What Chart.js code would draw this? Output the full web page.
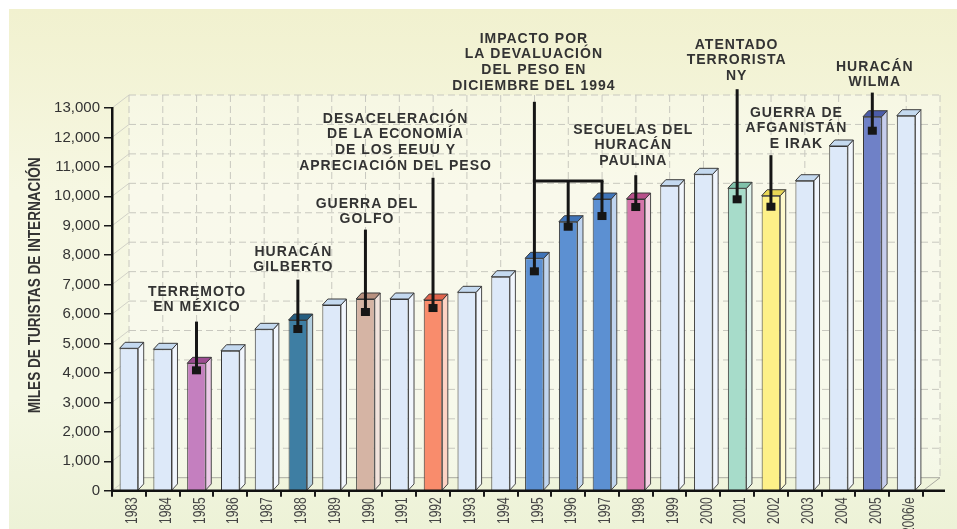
<!DOCTYPE html>
<html>
<head>
<meta charset="utf-8">
<script src="https://cdn.jsdelivr.net/npm/chart.js@4/dist/chart.umd.min.js"></script>
<style>
  html, body { margin: 0; padding: 0; background: #ffffff; }
  canvas { display: block; }
</style>
</head>
<body>
<canvas id="chart" width="957" height="529"></canvas>
<script>
// International tourist arrivals to Mexico, thousands
const years = ['1983','1984','1985','1986','1987','1988','1989','1990','1991','1992','1993','1994',
               '1995','1996','1997','1998','1999','2000','2001','2002','2003','2004','2005','2006/e'];
const tourists = [4837, 4803, 4327, 4755, 5482, 5798, 6308, 6512, 6512, 6477, 6739, 7269,
                  7894, 9137, 9908, 9908, 10360, 10747, 10272, 10020, 10530, 11709, 12704, 12738];
const yTicks = [0, 1000, 2000, 3000, 4000, 5000, 6000, 7000, 8000, 9000, 10000, 11000, 12000, 13000];
const yTitle = 'MILES DE TURISTAS DE INTERNACIÓN';

// Events that marked the series
const eventYears = [['1985'], ['1988'], ['1990'], ['1992'], ['1995', '1996', '1997'], ['1998'], ['2001'], ['2002'], ['2005']];
const eventTexts = [
  ['TERREMOTO', 'EN MÉXICO'],
  ['HURACÁN', 'GILBERTO'],
  ['GUERRA DEL', 'GOLFO'],
  ['DESACELERACIÓN', 'DE LA ECONOMÍA', 'DE LOS EEUU Y', 'APRECIACIÓN DEL PESO'],
  ['IMPACTO POR', 'LA DEVALUACIÓN', 'DEL PESO EN', 'DICIEMBRE DEL 1994'],
  ['SECUELAS DEL', 'HURACÁN', 'PAULINA'],
  ['ATENTADO', 'TERRORISTA', 'NY'],
  ['GUERRA DE', 'AFGANISTÁN', 'E IRAK'],
  ['HURACÁN', 'WILMA']
];

// Placement of each event label (text offset from its bar, first line y, marker drops below bar tops)
const eventLayout = [
  { textDx: 0,   textY: 292, gap: 14, drops: [7] },
  { textDx: -5,  textY: 252, gap: 12, drops: [9] },
  { textDx: 1,   textY: 204, gap: 10, drops: [13] },
  { textDx: -38, textY: 119, gap: 12, drops: [8] },
  { textDx: -1,  textY: 39,  gap: 16, drops: [13, 5, 17], bracketY: 181 },
  { textDx: -3,  textY: 130, gap: 14, drops: [8] },
  { textDx: -1,  textY: 45,  gap: 13, drops: [11] },
  { textDx: 25,  textY: 113, gap: 11, drops: [11] },
  { textDx: 2,   textY: 67,  gap: 10, drops: [14] }
];

// Bar faces: front, top, side
const plainFaces = ['#dde9f9', '#c4d9ef', '#f1f6fd'];
const eventFaces = {
  '1985': ['#c47fbf', '#9c4c91', '#eccbe8'],
  '1988': ['#3e7ea3', '#255e80', '#b3cfdf'],
  '1990': ['#d5b4a4', '#b8917f', '#f1e3dc'],
  '1992': ['#f98c6c', '#e0644c', '#fdd3c4'],
  '1995': ['#5c90d2', '#3f74b8', '#c0d5ef'],
  '1996': ['#5c90d2', '#3f74b8', '#c0d5ef'],
  '1997': ['#5c90d2', '#3f74b8', '#c0d5ef'],
  '1998': ['#d575ab', '#b8508b', '#f4d0e3'],
  '2001': ['#a7dcca', '#80c1aa', '#e0f3ec'],
  '2002': ['#fdf088', '#e9d756', '#fef9cc'],
  '2005': ['#6f81c7', '#4b5ca9', '#c6cdec']
};
const facesFor = yr => eventFaces[yr] || plainFaces;

const WALL = { dx: 17, dy: -13 };   // depth of back wall
const BAR = { dx: 5.5, dy: -6 };    // depth of each column

function seg(ctx, x1, y1, x2, y2) {
  ctx.beginPath(); ctx.moveTo(x1, y1); ctx.lineTo(x2, y2); ctx.stroke();
}
function poly(ctx, pts, fill, stroke) {
  ctx.beginPath();
  ctx.moveTo(pts[0][0], pts[0][1]);
  for (let i = 1; i < pts.length; i++) ctx.lineTo(pts[i][0], pts[i][1]);
  ctx.closePath();
  ctx.fillStyle = fill; ctx.fill();
  ctx.strokeStyle = stroke; ctx.lineWidth = 1; ctx.stroke();
}
// narrow lettering: regular face squeezed along the text direction
function narrowText(ctx, text, x, y, angle, squeeze, font, align) {
  ctx.save();
  ctx.translate(x, y);
  ctx.rotate(angle);
  ctx.scale(squeeze, 1);
  ctx.font = font;
  ctx.textAlign = align;
  ctx.textBaseline = 'middle';
  ctx.fillText(text, 0, 0);
  ctx.restore();
}

const scene3d = {
  id: 'scene3d',
  beforeDraw(chart) {
    const { ctx, chartArea: a, scales: { x, y } } = chart;
    ctx.save();
    ctx.fillStyle = '#ffffff';
    ctx.fillRect(0, 0, chart.width, chart.height);
    const g = ctx.createLinearGradient(0, 9, 0, chart.height);
    g.addColorStop(0, '#f1f1cf');
    g.addColorStop(0.35, '#f6f7e2');
    g.addColorStop(0.75, '#f4f7e3');
    g.addColorStop(1, '#edf2d7');
    ctx.fillStyle = g;
    ctx.fillRect(9, 9, chart.width - 9, chart.height - 9);

    const L = a.left + WALL.dx, R = a.right + WALL.dx;
    const T = a.top + WALL.dy, B = a.bottom + WALL.dy;
    ctx.fillStyle = 'rgba(255,255,255,0.3)';
    ctx.fillRect(L, T, R - L, B - T);

    // side wall diagonals from each tick
    ctx.strokeStyle = '#d2d2c8';
    ctx.lineWidth = 1;
    y.ticks.forEach(t => {
      const py = y.getPixelForValue(t.value);
      seg(ctx, a.left, py, L, py + WALL.dy);
    });

    // dashed grid on the back wall
    ctx.setLineDash([7, 4]);
    ctx.strokeStyle = '#c8c8bf';
    y.ticks.forEach(t => {
      if (t.value === 0) return;
      const py = y.getPixelForValue(t.value) + WALL.dy;
      seg(ctx, L, py, R, py);
    });
    for (let i = 0; i <= years.length; i++) {
      const px = x.getPixelForValue(i - 0.5) + WALL.dx;
      seg(ctx, px, T, px, B);
    }
    ctx.setLineDash([]);

    // floor
    ctx.strokeStyle = '#a9a9a0';
    seg(ctx, L, B, R, B);
    seg(ctx, a.right, a.bottom, R, B);
    ctx.restore();
  },
  afterDatasetsDraw(chart) {
    const { ctx } = chart;
    const meta = chart.getDatasetMeta(0);
    ctx.save();
    meta.data.forEach((bar, i) => {
      const { x: cx, y: top, base, width } = bar.getProps(['x', 'y', 'base', 'width'], true);
      const l = cx - width / 2, r = cx + width / 2;
      const f = facesFor(years[i]);
      poly(ctx, [[r, top], [r + BAR.dx, top + BAR.dy], [r + BAR.dx, base + BAR.dy], [r, base]], f[2], '#4a4a4a');
      poly(ctx, [[l, top], [l + BAR.dx, top + BAR.dy], [r + BAR.dx, top + BAR.dy], [r, top]], f[1], '#3a3a3a');
    });
    ctx.restore();
  },
  afterDraw(chart) {
    const { ctx, chartArea: a, scales: { x, y } } = chart;
    ctx.save();
    // horizontal axis line runs under the floor edge
    ctx.strokeStyle = '#111111';
    ctx.lineWidth = 2.5;
    seg(ctx, a.left, a.bottom, a.right + 22, a.bottom);

    // year labels, reading upward from below the axis
    ctx.fillStyle = '#444444';
    years.forEach((yr, i) => {
      narrowText(ctx, yr, x.getPixelForValue(i) + 3.5, a.bottom + 6.5, -Math.PI / 2, 0.71,
        '17px "Liberation Sans", Arial, sans-serif', 'right');
    });

    // vertical axis title
    ctx.fillStyle = '#333333';
    narrowText(ctx, yTitle, 35, (a.top + a.bottom) / 2 - 14, -Math.PI / 2, 0.8,
      'bold 17px "Liberation Sans", Arial, sans-serif', 'center');

    // event markers, leaders and labels
    ctx.font = 'bold 14px "Liberation Sans", Arial, sans-serif';
    ctx.letterSpacing = '1px';
    ctx.textAlign = 'center';
    ctx.textBaseline = 'middle';
    const lineH = 15.6;
    eventYears.forEach((yrs, k) => {
      const lay = eventLayout[k];
      const pts = yrs.map((yr, j) => {
        const idx = years.indexOf(yr);
        return { x: x.getPixelForValue(idx), y: y.getPixelForValue(tourists[idx]) + lay.drops[j] };
      });
      const lines = eventTexts[k];
      const tx = pts[0].x + lay.textDx;
      ctx.fillStyle = '#333333';
      lines.forEach((s, n) => ctx.fillText(s, tx + 0.5, lay.textY + n * lineH));
      const leaderTop = lay.textY + (lines.length - 1) * lineH + lay.gap;
      ctx.strokeStyle = '#161616';
      ctx.lineWidth = 3;
      seg(ctx, pts[0].x, leaderTop, pts[0].x, pts[0].y);
      if (pts.length > 1) {
        const by = lay.bracketY;
        seg(ctx, pts[0].x - 1.5, by, pts[pts.length - 1].x + 1.5, by);
        pts.slice(1).forEach(p => seg(ctx, p.x, by, p.x, p.y));
      }
      ctx.fillStyle = '#161616';
      pts.forEach(p => ctx.fillRect(p.x - 4.5, p.y - 4, 9, 8));
    });
    ctx.restore();
  }
};

new Chart(document.getElementById('chart'), {
  type: 'bar',
  data: {
    labels: years,
    datasets: [{
      data: tourists,
      backgroundColor: years.map(yr => facesFor(yr)[0]),
      borderColor: '#333333',
      borderWidth: 1,
      barPercentage: 0.55,
      categoryPercentage: 1
    }]
  },
  options: {
    responsive: false,
    animation: false,
    layout: { padding: { top: 108, right: 34, bottom: 0, left: 0 } },
    plugins: { legend: { display: false }, tooltip: { enabled: false } },
    scales: {
      x: {
        offset: true,
        grid: { offset: true, drawOnChartArea: false, drawTicks: true, tickLength: 6, color: '#1a1a1a', lineWidth: 2 },
        border: { display: false },
        ticks: { display: false, autoSkip: false },
        afterFit(scale) { scale.height = 38.3; }
      },
      y: {
        min: 0, max: 13000,
        afterBuildTicks(scale) { scale.ticks = yTicks.map(v => ({ value: v })); },
        grid: { drawOnChartArea: false, drawTicks: true, tickLength: 8, color: '#1a1a1a', lineWidth: 1.5 },
        border: { display: true, color: '#111111', width: 2.5 },
        ticks: {
          padding: 4,
          color: '#333333',
          font: { family: '"Liberation Sans", Arial, sans-serif', size: 15 },
          callback: v => v.toLocaleString('en-US')
        },
        afterFit(scale) { scale.width = 112; }
      }
    }
  },
  plugins: [scene3d]
});
</script>
</body>
</html>
